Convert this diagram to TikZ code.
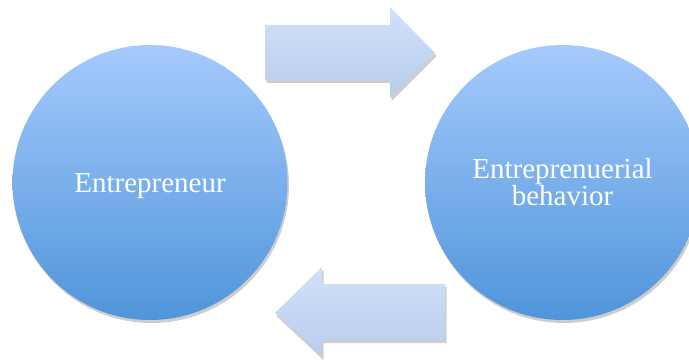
\documentclass[tikz,border=0pt]{standalone}
\usepackage{fontspec}
\setmainfont{Liberation Serif}
\usetikzlibrary{shadows}
\definecolor{circtop}{HTML}{A6CAFD}
\definecolor{circbot}{HTML}{4F95DA}
\definecolor{arrtop}{HTML}{D0E1FA}
\definecolor{arrbot}{HTML}{B8CCEA}
\tikzset{
  softshadow/.style={drop shadow={shadow xshift=1.5pt, shadow yshift=-3pt, opacity=0.28, fill=black!70}},
  bubble/.style={circle, minimum size=275pt, inner sep=0pt, top color=circtop, bottom color=circbot, draw=none, softshadow,
    text=white, font=\fontsize{29}{27}\selectfont, align=center},
  blockarrow/.style={top color=arrtop, bottom color=arrbot, draw=none, softshadow}
}
\begin{document}
\begin{tikzpicture}[x=1pt,y=-1pt]
\useasboundingbox (0,0) rectangle (689,361);
\clip (0,0) rectangle (689,361);
\node[bubble, text height=19pt, text depth=0pt] (entre) at (150,182.5) {Entrepreneur};
\node[bubble] (behav) at (562.5,182.5) {Entreprenuerial\\behavior};
\path[blockarrow] (265,25) -- (390,25) -- (390,7) -- (435,53) -- (390,98) -- (390,80) -- (265,80) -- cycle;
\path[blockarrow] (445,284) -- (322,284) -- (322,267) -- (275,313) -- (322,357) -- (322,340) -- (445,340) -- cycle;
\end{tikzpicture}
\end{document}
